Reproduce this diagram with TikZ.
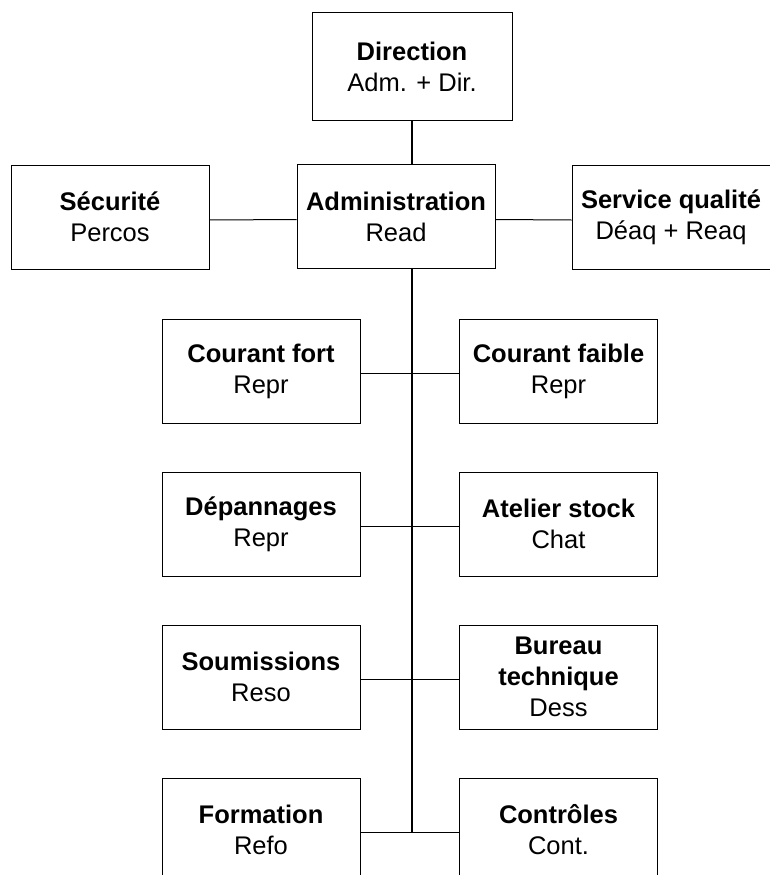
\documentclass[tikz,border=0pt]{standalone}
\usepackage{fontspec}
\setmainfont{Liberation Sans}
\usetikzlibrary{positioning}

\tikzset{
    box/.style={draw, line width=1pt, minimum width=198pt, minimum height=104pt,
        align=center, inner sep=2pt, font=\fontsize{25.5}{31}\selectfont},
    lien/.style={line width=1pt},
    tronc/.style={line width=2pt}
}

\begin{document}
\begin{tikzpicture}[x=1pt, y=-1pt]
    \useasboundingbox (0,0) rectangle (769,875);
    % sommet
    \node[box, minimum width=200pt, minimum height=107pt] (dir) at (412,66.5) {\textbf{Direction}\\Adm. + Dir.};
    \node[box] (adm) at (396,216.5) {\textbf{Administration}\\Read};
    \node[box] (secu) at (110,217) {\textbf{Sécurité}\\Percos};
    \node[box] (qual) at (671,217) {\textbf{Service qualité}\\Déaq + Reaq};
    % colonnes
    \node[box] (cfort) at (261,371) {\textbf{Courant fort}\\Repr};
    \node[box] (cfaible) at (558.5,371) {\textbf{Courant faible}\\Repr};
    \node[box] (dep) at (261,524) {\textbf{Dépannages}\\Repr};
    \node[box] (atel) at (558.5,524) {\textbf{Atelier stock}\\Chat};
    \node[box] (soum) at (261,677) {\textbf{Soumissions}\\Reso};
    \node[box] (bur) at (558.5,677) {\textbf{Bureau}\\\textbf{technique}\\Dess};
    \node[box] (form) at (261,830) {\textbf{Formation}\\Refo};
    \node[box] (ctrl) at (558.5,830) {\textbf{Contrôles}\\Cont.};
    \coordinate (bas) at (412,832);
    % liaisons
    \draw[tronc] (dir.south) -- (dir.south |- adm.north);
    \draw[tronc] (adm.south -| dir.south) -- (bas);
    \draw[lien] ([yshift=-3pt]secu.east) -- ([yshift=-3pt]adm.west);
    \draw[lien] ([yshift=-3pt]adm.east) -- ([yshift=-3pt]qual.west);
    \foreach \g/\d in {cfort/cfaible, dep/atel, soum/bur, form/ctrl} {
        \draw[lien] ([yshift=-2pt]\g.east) -- ([yshift=-2pt]\d.west);
    }
\end{tikzpicture}
\end{document}
